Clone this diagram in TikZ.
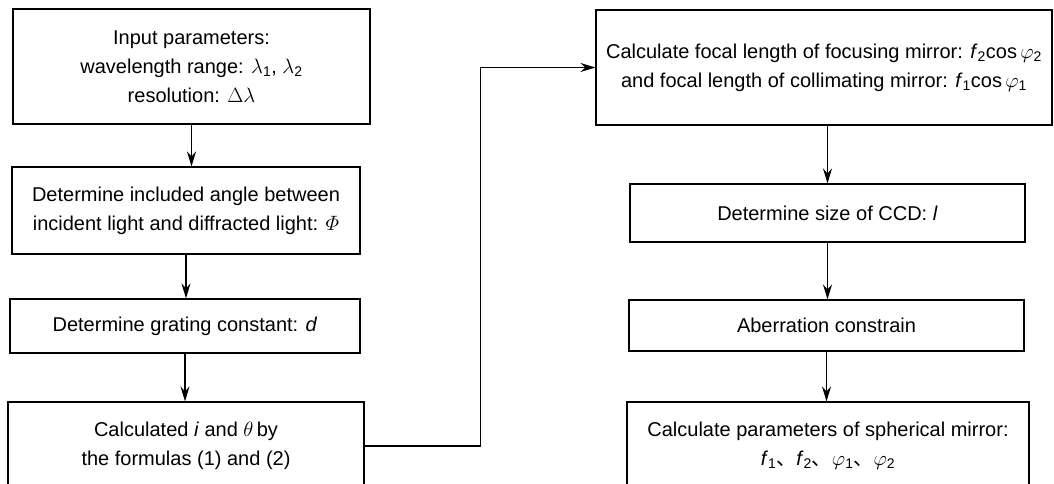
\documentclass[tikz,border=0pt]{standalone}
\usepackage{fontspec}
\usepackage{amsmath}
\setmainfont{Liberation Sans}
\newfontfamily\cjk{Noto Sans CJK SC}
\usetikzlibrary{arrows.meta}
\begin{document}
\begin{tikzpicture}[x=1pt, y=-1pt,
  blk/.style={draw, line width=1.2pt, align=center, inner sep=0pt, font=\fontsize{20}{29}\selectfont},
  arr/.style={line width=1.2pt, -{Stealth[length=15pt, width=9pt, inset=5pt]}}]
\useasboundingbox (0,0) rectangle (1054,483);
\clip (0,0) rectangle (1054,483);
\node[blk, minimum width=357pt, minimum height=115pt] (input) at (191.5,66.5) {Input parameters:\\wavelength range: $\lambda$\textsubscript{1}, $\lambda$\textsubscript{2}\\resolution: $\Delta\lambda$};
\node[blk, minimum width=348pt, minimum height=87pt] (angle) at (186,210.5) {Determine included angle between\\incident light and diffracted light: $\varPhi$};
\node[blk, minimum width=350pt, minimum height=54pt] (grating) at (185,326) {Determine grating constant: \textit{d}};
\node[blk, minimum width=356pt, minimum height=88pt] (calc) at (186,446) {Calculated \textit{i} and $\theta$\,by\\the formulas (1) and (2)};
\node[blk, minimum width=456pt, minimum height=115pt] (focal) at (824,67.5) {Calculate focal length of focusing mirror: \textit{f}\textsubscript{2}cos\,$\varphi$\textsubscript{2}\\and focal length of collimating mirror: \textit{f}\textsubscript{1}cos\,$\varphi$\textsubscript{1}};
\node[blk, minimum width=395pt, minimum height=58pt] (ccd) at (827.5,213) {Determine size of CCD: \textit{l}};
\node[blk, minimum width=395pt, minimum height=51pt] (aber) at (826.5,325.5) {Aberration constrain};
\node[blk, minimum width=402pt, minimum height=88pt] (mirror) at (828,446) {Calculate parameters of spherical mirror:\\\textit{f}\textsubscript{1}{\cjk 、}\textit{f}\textsubscript{2}{\cjk 、}$\varphi$\textsubscript{1}{\cjk 、}$\varphi$\textsubscript{2}};
\draw[arr] (input.south) -- (input.south |- angle.north);
\draw[arr] (angle.south) -- (angle.south |- grating.north);
\draw[arr] (grating.south) -- (grating.south |- calc.north);
\draw[arr] (calc.east) -- ++(116,0) |- (focal.west);
\draw[arr] (focal.south -| ccd.north) -- (ccd.north);
\draw[arr] (ccd.south) -- (ccd.south |- aber.north);
\draw[arr] (aber.south) -- (aber.south |- mirror.north);
\end{tikzpicture}
\end{document}
